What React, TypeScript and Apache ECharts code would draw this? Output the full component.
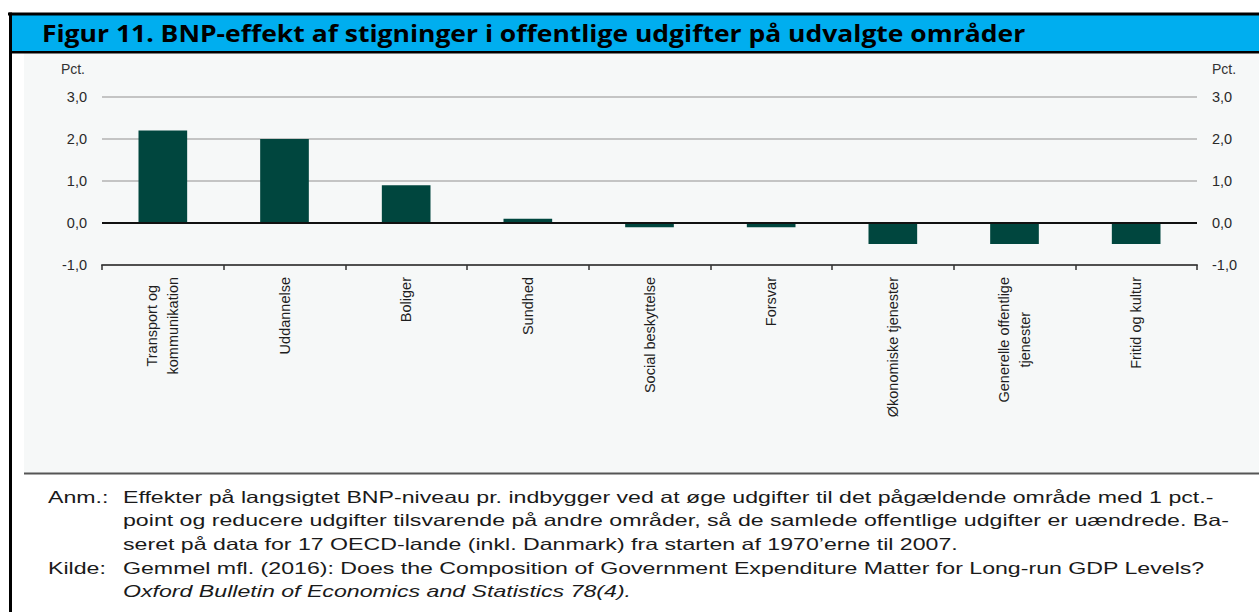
import React, { useEffect, useRef } from "react";
import * as echarts from "echarts";

const titleText = "Figur 11. BNP-effekt af stigninger i offentlige udgifter på udvalgte områder";
const categories = [
  "Transport og\nkommunikation",
  "Uddannelse",
  "Boliger",
  "Sundhed",
  "Social beskyttelse",
  "Forsvar",
  "Økonomiske tjenester",
  "Generelle offentlige\ntjenester",
  "Fritid og kultur",
];
const values = [2.2, 2.0, 0.9, 0.1, -0.1, -0.1, -0.5, -0.5, -0.5];
const yMin = -1;
const yMax = 3;
const yInterval = 1;
const unitLabel = "Pct.";
const noteHeads = ["Anm.:", "", "", "Kilde:", ""];
const noteLines = [
  "Effekter på langsigtet BNP-niveau pr. indbygger ved at øge udgifter til det pågældende område med 1 pct.-",
  "point og reducere udgifter tilsvarende på andre områder, så de samlede offentlige udgifter er uændrede. Ba-",
  "seret på data for 17 OECD-lande (inkl. Danmark) fra starten af 1970’erne til 2007.",
  "Gemmel mfl. (2016): Does the Composition of Government Expenditure Matter for Long-run GDP Levels?",
  "Oxford Bulletin of Economics and Statistics 78(4).",
];
const noteItalic = [false, false, false, false, true];

const FONT = "'Liberation Sans', Arial, sans-serif";
const TITLE_FONT = "'Open Sans', Lato, sans-serif";

function measure(text: string, font: string): number {
  const c = document.createElement("canvas");
  const ctx = c.getContext("2d");
  if (!ctx) return text.length * 8;
  ctx.font = font;
  return ctx.measureText(text).width;
}

export default function App() {
  const ref = useRef<HTMLDivElement>(null);
  useEffect(() => {
    document.body.style.margin = "0";
    if (!ref.current) return;
    const chart = echarts.init(ref.current, undefined, { renderer: "svg" });

    const titleSize = 24;
    const titleW = measure(titleText, `bold ${titleSize}px ${TITLE_FONT}`);
    const titleScale = 984 / titleW;

    const noteSize = 16.5;
    const noteW = measure(noteLines[0], `${noteSize}px ${FONT}`);
    const noteScale = 1091 / noteW;
    const noteYs = [497, 520, 544, 568, 591];

    const graphics: any[] = [
      { type: "rect", z: 0, shape: { x: 24, y: 53, width: 1235, height: 420 }, style: { fill: "#F6F8F8" } },
      { type: "rect", z: 1, shape: { x: 12, y: 15, width: 1247, height: 36 }, style: { fill: "#00AEEF" } },
      { type: "rect", z: 1, shape: { x: 8, y: 12.5, width: 1251, height: 3 }, style: { fill: "#000" } },
      { type: "rect", z: 1, shape: { x: 12, y: 51, width: 1247, height: 2.5 }, style: { fill: "#000" } },
      { type: "rect", z: 1, shape: { x: 9, y: 12.5, width: 3, height: 600 }, style: { fill: "#000" } },
      { type: "rect", z: 1, shape: { x: 24, y: 472.5, width: 1235, height: 2 }, style: { fill: "#555" } },
      {
        type: "text",
        z: 2,
        x: 42,
        y: 33,
        scaleX: titleScale,
        style: {
          text: titleText,
          fontSize: titleSize,
          fontWeight: "bold",
          fontFamily: TITLE_FONT,
          fill: "#000",
          verticalAlign: "middle",
          align: "left",
        },
      },
    ];
    noteLines.forEach((line, i) => {
      if (noteHeads[i]) {
        graphics.push({
          type: "text",
          z: 2,
          x: 48,
          y: noteYs[i],
          scaleX: noteScale,
          style: { text: noteHeads[i], fontSize: noteSize, fontFamily: FONT, fill: "#1a1a1a", verticalAlign: "middle" },
        });
      }
      graphics.push({
        type: "text",
        z: 2,
        x: 123,
        y: noteYs[i],
        scaleX: noteScale,
        style: {
          text: line,
          fontSize: noteSize,
          fontFamily: FONT,
          fontStyle: noteItalic[i] ? "italic" : "normal",
          fill: "#1a1a1a",
          verticalAlign: "middle",
        },
      });
    });

    const fmt = (v: number) => v.toFixed(1).replace(".", ",");
    const yCommon = {
      type: "value",
      min: yMin,
      max: yMax,
      interval: yInterval,
      name: unitLabel,
      nameLocation: "end",
      nameGap: 28,
      axisLine: { show: false },
      axisTick: { show: false },
    };

    chart.setOption({
      animation: false,
      graphic: graphics,
      grid: { left: 102, right: 62, top: 97, bottom: 347, containLabel: false },
      xAxis: {
        type: "category",
        data: categories,
        boundaryGap: true,
        axisLine: { onZero: false, lineStyle: { color: "#505050", width: 2 } },
        axisTick: { show: true, length: 5, lineStyle: { color: "#333", width: 1.5 } },
        axisLabel: {
          rotate: 90,
          margin: 12,
          interval: 0,
          formatter: (v: string) => v.split("\n").map((s) => `{c|${s}}`).join("\n"),
          rich: {
            c: { align: "center", fontSize: 14.5, lineHeight: 21, fontFamily: FONT, color: "#1e1e1e" },
          },
        },
      },
      yAxis: [
        {
          ...yCommon,
          position: "left",
          nameTextStyle: { align: "right", verticalAlign: "middle", padding: [0, 17, 0, 0], fontSize: 14, fontFamily: FONT, color: "#333" },
          axisLabel: { margin: 15, fontSize: 14.5, fontFamily: FONT, color: "#2a2a2a", formatter: fmt },
          splitLine: { show: true, lineStyle: { color: "#b3b3b3", width: 1.5 } },
        },
        {
          ...yCommon,
          position: "right",
          nameTextStyle: { align: "left", verticalAlign: "middle", padding: [0, 0, 0, 15], fontSize: 14, fontFamily: FONT, color: "#333" },
          axisLabel: { margin: 15, fontSize: 14.5, fontFamily: FONT, color: "#2a2a2a", formatter: fmt },
          splitLine: { show: false },
        },
      ],
      series: [
        {
          type: "bar",
          data: values,
          barWidth: "40%",
          itemStyle: { color: "#00463E" },
          markLine: {
            silent: true,
            symbol: ["none", "none"],
            label: { show: false },
            lineStyle: { color: "#111", width: 2, type: "solid" },
            data: [{ yAxis: 0 }],
          },
        },
      ],
    });
    return () => chart.dispose();
  }, []);
  return <div ref={ref} style={{ width: 1259, height: 612 }} />;
}
